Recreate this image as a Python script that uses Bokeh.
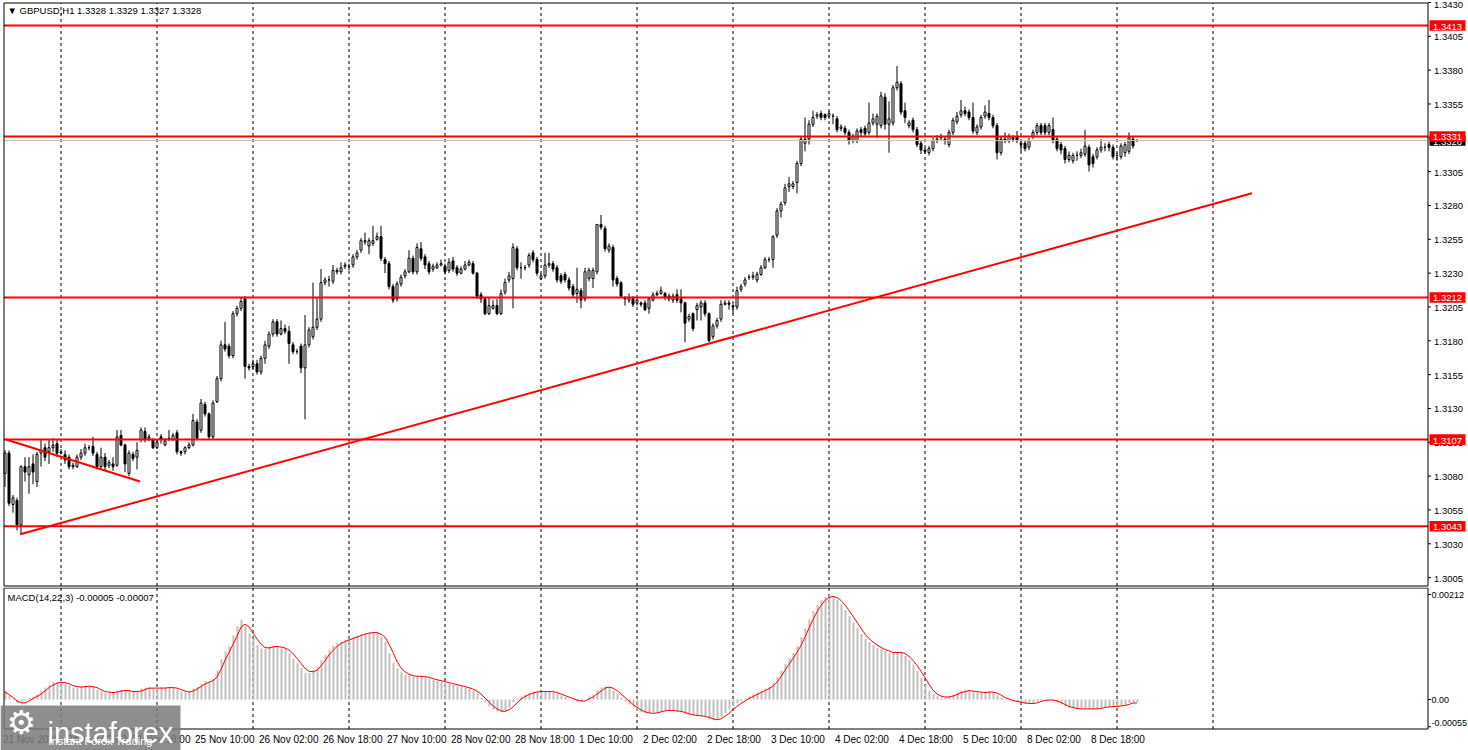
from bokeh.plotting import figure
from bokeh.layouts import column
from bokeh.models import Range1d, Label, ColumnDataSource
from bokeh.transform import dodge
from bokeh.core.properties import value
from bokeh.embed import file_html
from bokeh.resources import INLINE

# ---------------- data (GBPUSD H1, 21 Nov 10:00 .. 9 Dec 05:00) ----------------
open_ = [
    1.3082,1.3097,1.3059,1.3062,1.3044,1.3087,1.3081,1.3089,1.3076,1.3097,
    1.3101,1.3098,1.3101,1.3104,1.3097,1.3096,1.3094,1.3087,1.3087,1.3094,
    1.3097,1.3101,1.3102,1.3096,1.3087,1.3094,1.3088,1.3089,1.3088,1.3110,
    1.3103,1.3082,1.3096,1.3094,1.3107,1.3113,1.3108,1.3107,1.3101,1.3109,
    1.3103,1.3107,1.3107,1.3112,1.3098,1.3098,1.3101,1.3103,1.3120,1.3114,
    1.3133,1.3126,1.3109,1.3135,1.3152,1.3177,1.3176,1.3169,1.3200,1.3204,
    1.3211,1.3161,1.3161,1.3163,1.3157,1.3167,1.3176,1.3185,1.3194,1.3185,
    1.3189,1.3187,1.3177,1.3172,1.3176,1.3160,1.3177,1.3183,1.3190,1.3196,
    1.3223,1.3225,1.3224,1.3231,1.3231,1.3235,1.3235,1.3236,1.3242,1.3247,
    1.3253,1.3250,1.3252,1.3255,1.3257,1.3240,1.3237,1.3220,1.3211,1.3222,
    1.3228,1.3231,1.3241,1.3231,1.3248,1.3242,1.3237,1.3233,1.3234,1.3236,
    1.3235,1.3232,1.3239,1.3234,1.3230,1.3233,1.3236,1.3237,1.3230,1.3214,
    1.3211,1.3200,1.3204,1.3206,1.3200,1.3216,1.3225,1.3226,1.3248,1.3234,
    1.3234,1.3236,1.3245,1.3240,1.3226,1.3228,1.3236,1.3237,1.3234,1.3228,
    1.3229,1.3225,1.3220,1.3215,1.3217,1.3211,1.3226,1.3226,1.3231,1.3266,
    1.3263,1.3247,1.3249,1.3226,1.3223,1.3212,1.3210,1.3211,1.3208,1.3208,
    1.3208,1.3204,1.3210,1.3214,1.3215,1.3215,1.3213,1.3210,1.3214,1.3211,
    1.3208,1.3196,1.3200,1.3203,1.3205,1.3208,1.3200,1.3183,1.3191,1.3196,
    1.3207,1.3208,1.3206,1.3205,1.3218,1.3222,1.3227,1.3227,1.3225,1.3229,
    1.3234,1.3240,1.3240,1.3258,1.3276,1.3282,1.3294,1.3294,1.3297,1.3311,
    1.3326,1.3329,1.3340,1.3346,1.3348,1.3347,1.3346,1.3346,1.3344,1.3337,
    1.3337,1.3334,1.3328,1.3328,1.3336,1.3337,1.3334,1.3341,1.3340,1.3339,
    1.3360,1.3340,1.3341,1.3367,1.3370,1.3350,1.3339,1.3343,1.3336,1.3326,
    1.3321,1.3319,1.3322,1.3328,1.3330,1.3329,1.3325,1.3334,1.3342,1.3347,
    1.3350,1.3349,1.3345,1.3334,1.3338,1.3346,1.3348,1.3345,1.3339,1.3319,
    1.3329,1.3328,1.3330,1.3331,1.3326,1.3326,1.3323,1.3331,1.3334,1.3339,
    1.3339,1.3334,1.3336,1.3329,1.3325,1.3322,1.3314,1.3313,1.3317,1.3317,
    1.3318,1.3323,1.3316,1.3316,1.3321,1.3323,1.3325,1.3323,1.3317,1.3316,
    1.3319,1.3320,1.3329,1.3328,
]
high_ = [
    1.3099,1.3099,1.3066,1.3064,1.3088,1.3094,1.3094,1.3096,1.3098,1.3107,
    1.3104,1.3107,1.3108,1.3107,1.3100,1.3099,1.3096,1.3090,1.3096,1.3100,
    1.3104,1.3103,1.3109,1.3098,1.3101,1.3097,1.3092,1.3094,1.3114,1.3114,
    1.3104,1.3099,1.3098,1.3105,1.3116,1.3116,1.3111,1.3108,1.3107,1.3111,
    1.3108,1.3114,1.3112,1.3114,1.3099,1.3102,1.3105,1.3126,1.3122,1.3137,
    1.3135,1.3127,1.3136,1.3154,1.3180,1.3194,1.3178,1.3202,1.3206,1.3212,
    1.3213,1.3163,1.3166,1.3166,1.3169,1.3180,1.3187,1.3196,1.3196,1.3195,
    1.3192,1.3191,1.3179,1.3174,1.3178,1.3199,1.3190,1.3223,1.3212,1.3233,
    1.3227,1.3228,1.3236,1.3234,1.3238,1.3238,1.3237,1.3244,1.3247,1.3256,
    1.3260,1.3256,1.3265,1.3260,1.3265,1.3242,1.3239,1.3222,1.3224,1.3229,
    1.3233,1.3247,1.3243,1.3252,1.3253,1.3244,1.3239,1.3237,1.3238,1.3240,
    1.3237,1.3241,1.3242,1.3236,1.3235,1.3239,1.3240,1.3239,1.3231,1.3216,
    1.3212,1.3212,1.3210,1.3211,1.3218,1.3226,1.3231,1.3252,1.3250,1.3238,
    1.3236,1.3245,1.3247,1.3242,1.3230,1.3245,1.3245,1.3239,1.3236,1.3230,
    1.3231,1.3227,1.3222,1.3234,1.3219,1.3234,1.3234,1.3234,1.3266,1.3273,
    1.3265,1.3252,1.3251,1.3228,1.3224,1.3213,1.3215,1.3213,1.3212,1.3209,
    1.3210,1.3212,1.3216,1.3217,1.3220,1.3216,1.3215,1.3215,1.3218,1.3218,
    1.3209,1.3200,1.3201,1.3208,1.3210,1.3210,1.3201,1.3193,1.3197,1.3210,
    1.3210,1.3210,1.3207,1.3220,1.3222,1.3227,1.3229,1.3231,1.3231,1.3236,
    1.3242,1.3242,1.3258,1.3278,1.3283,1.3296,1.3301,1.3298,1.3313,1.3331,
    1.3345,1.3343,1.3350,1.3349,1.3350,1.3348,1.3350,1.3348,1.3346,1.3340,
    1.3339,1.3336,1.3333,1.3337,1.3338,1.3339,1.3356,1.3348,1.3348,1.3364,
    1.3363,1.3357,1.3369,1.3383,1.3372,1.3356,1.3343,1.3345,1.3338,1.3328,
    1.3323,1.3324,1.3330,1.3332,1.3333,1.3331,1.3336,1.3345,1.3349,1.3358,
    1.3353,1.3351,1.3356,1.3340,1.3347,1.3354,1.3358,1.3347,1.3341,1.3331,
    1.3334,1.3333,1.3332,1.3335,1.3328,1.3328,1.3330,1.3336,1.3341,1.3341,
    1.3341,1.3341,1.3345,1.3331,1.3327,1.3324,1.3320,1.3319,1.3320,1.3322,
    1.3336,1.3325,1.3318,1.3323,1.3329,1.3326,1.3327,1.3325,1.3319,1.3326,
    1.3327,1.3334,1.3331,1.3329,
]
low_ = [
    1.3072,1.3058,1.3053,1.3040,1.3037,1.3076,1.3067,1.3074,1.3072,1.3087,
    1.3091,1.3089,1.3098,1.3094,1.3096,1.3089,1.3085,1.3085,1.3086,1.3092,
    1.3095,1.3099,1.3095,1.3085,1.3086,1.3084,1.3086,1.3084,1.3087,1.3102,
    1.3083,1.3080,1.3091,1.3085,1.3105,1.3105,1.3106,1.3100,1.3100,1.3104,
    1.3102,1.3106,1.3106,1.3096,1.3095,1.3096,1.3100,1.3102,1.3107,1.3112,
    1.3124,1.3107,1.3107,1.3134,1.3150,1.3172,1.3167,1.3167,1.3198,1.3202,
    1.3152,1.3158,1.3159,1.3155,1.3155,1.3163,1.3174,1.3183,1.3183,1.3184,
    1.3185,1.3163,1.3170,1.3170,1.3156,1.3122,1.3175,1.3181,1.3188,1.3194,
    1.3221,1.3220,1.3222,1.3229,1.3229,1.3233,1.3232,1.3234,1.3240,1.3245,
    1.3251,1.3244,1.3250,1.3254,1.3239,1.3230,1.3218,1.3208,1.3209,1.3220,
    1.3226,1.3230,1.3229,1.3229,1.3239,1.3233,1.3229,1.3231,1.3233,1.3235,
    1.3229,1.3230,1.3231,1.3228,1.3229,1.3232,1.3235,1.3229,1.3211,1.3208,
    1.3199,1.3199,1.3203,1.3199,1.3199,1.3214,1.3223,1.3204,1.3232,1.3226,
    1.3232,1.3234,1.3238,1.3228,1.3225,1.3226,1.3234,1.3231,1.3223,1.3222,
    1.3223,1.3217,1.3212,1.3208,1.3204,1.3209,1.3224,1.3219,1.3229,1.3262,
    1.3246,1.3245,1.3220,1.3220,1.3212,1.3206,1.3208,1.3205,1.3206,1.3205,
    1.3202,1.3200,1.3209,1.3213,1.3214,1.3210,1.3209,1.3208,1.3208,1.3201,
    1.3179,1.3194,1.3187,1.3195,1.3195,1.3198,1.3179,1.3181,1.3189,1.3194,
    1.3206,1.3203,1.3200,1.3203,1.3216,1.3220,1.3225,1.3225,1.3223,1.3228,
    1.3233,1.3238,1.3234,1.3256,1.3271,1.3280,1.3290,1.3292,1.3289,1.3309,
    1.3320,1.3325,1.3338,1.3344,1.3343,1.3343,1.3344,1.3340,1.3334,1.3335,
    1.3332,1.3325,1.3326,1.3326,1.3331,1.3331,1.3332,1.3339,1.3330,1.3337,
    1.3336,1.3319,1.3339,1.3365,1.3347,1.3341,1.3337,1.3334,1.3323,1.3318,
    1.3318,1.3317,1.3320,1.3326,1.3328,1.3325,1.3323,1.3332,1.3340,1.3345,
    1.3346,1.3343,1.3333,1.3332,1.3336,1.3344,1.3343,1.3337,1.3314,1.3317,
    1.3326,1.3326,1.3327,1.3326,1.3320,1.3320,1.3321,1.3329,1.3332,1.3332,
    1.3332,1.3332,1.3326,1.3320,1.3318,1.3311,1.3312,1.3311,1.3313,1.3315,
    1.3316,1.3305,1.3308,1.3314,1.3319,1.3320,1.3320,1.3314,1.3313,1.3314,
    1.3316,1.3318,1.3322,1.3327,
]
close_ = [
    1.3097,1.3060,1.3064,1.3044,1.3087,1.3083,1.3087,1.3083,1.3096,1.3099,
    1.3094,1.3101,1.3103,1.3097,1.3098,1.3092,1.3087,1.3088,1.3094,1.3097,
    1.3101,1.3101,1.3097,1.3087,1.3094,1.3087,1.3090,1.3087,1.3109,1.3103,
    1.3089,1.3097,1.3093,1.3099,1.3114,1.3107,1.3109,1.3101,1.3105,1.3107,
    1.3106,1.3108,1.3110,1.3098,1.3097,1.3101,1.3103,1.3121,1.3108,1.3134,
    1.3126,1.3109,1.3134,1.3152,1.3177,1.3174,1.3169,1.3200,1.3204,1.3209,
    1.3161,1.3160,1.3163,1.3157,1.3167,1.3177,1.3185,1.3194,1.3185,1.3189,
    1.3187,1.3178,1.3172,1.3172,1.3160,1.3177,1.3188,1.3190,1.3196,1.3223,
    1.3225,1.3225,1.3232,1.3232,1.3234,1.3236,1.3235,1.3242,1.3245,1.3254,
    1.3254,1.3254,1.3254,1.3257,1.3241,1.3237,1.3220,1.3210,1.3222,1.3227,
    1.3231,1.3241,1.3231,1.3249,1.3241,1.3236,1.3231,1.3235,1.3236,1.3237,
    1.3231,1.3238,1.3233,1.3230,1.3233,1.3236,1.3238,1.3230,1.3213,1.3211,
    1.3200,1.3206,1.3206,1.3200,1.3215,1.3223,1.3228,1.3249,1.3234,1.3234,
    1.3234,1.3243,1.3240,1.3230,1.3228,1.3236,1.3237,1.3233,1.3225,1.3224,
    1.3225,1.3219,1.3214,1.3218,1.3210,1.3231,1.3232,1.3232,1.3266,1.3264,
    1.3248,1.3250,1.3225,1.3222,1.3213,1.3211,1.3212,1.3207,1.3210,1.3207,
    1.3203,1.3211,1.3214,1.3215,1.3217,1.3212,1.3211,1.3213,1.3210,1.3208,
    1.3193,1.3198,1.3189,1.3206,1.3208,1.3200,1.3180,1.3191,1.3195,1.3207,
    1.3208,1.3207,1.3205,1.3217,1.3220,1.3225,1.3227,1.3228,1.3229,1.3234,
    1.3240,1.3240,1.3257,1.3276,1.3281,1.3293,1.3296,1.3296,1.3311,1.3329,
    1.3329,1.3340,1.3345,1.3347,1.3345,1.3345,1.3348,1.3346,1.3336,1.3338,
    1.3334,1.3328,1.3331,1.3335,1.3334,1.3333,1.3341,1.3344,1.3346,1.3361,
    1.3340,1.3344,1.3367,1.3371,1.3349,1.3345,1.3341,1.3336,1.3325,1.3321,
    1.3320,1.3322,1.3328,1.3329,1.3331,1.3328,1.3334,1.3343,1.3346,1.3350,
    1.3348,1.3345,1.3335,1.3338,1.3345,1.3349,1.3345,1.3339,1.3319,1.3329,
    1.3328,1.3331,1.3329,1.3328,1.3325,1.3322,1.3328,1.3334,1.3339,1.3334,
    1.3334,1.3339,1.3328,1.3322,1.3321,1.3314,1.3317,1.3317,1.3317,1.3319,
    1.3324,1.3310,1.3311,1.3321,1.3323,1.3323,1.3323,1.3316,1.3317,1.3324,
    1.3325,1.3330,1.3324,1.3328,
]
macd_main = [
    0.00018,0.00008,-0.00002,-0.00007,-0.00007,-0.00003,0.00003,0.00006,0.00010,0.00018,
    0.00024,0.00029,0.00035,0.00035,0.00034,0.00032,0.00029,0.00024,0.00024,0.00027,
    0.00027,0.00027,0.00025,0.00020,0.00016,0.00013,0.00015,0.00013,0.00018,0.00020,
    0.00017,0.00017,0.00015,0.00015,0.00022,0.00024,0.00024,0.00022,0.00022,0.00024,
    0.00024,0.00024,0.00024,0.00020,0.00016,0.00014,0.00015,0.00022,0.00025,0.00032,
    0.00037,0.00035,0.00042,0.00059,0.00081,0.00097,0.00108,0.00129,0.00148,0.00161,
    0.00148,0.00133,0.00122,0.00110,0.00103,0.00103,0.00107,0.00108,0.00107,0.00103,
    0.00103,0.00093,0.00083,0.00073,0.00063,0.00054,0.00054,0.00059,0.00065,0.00080,
    0.00090,0.00100,0.00108,0.00114,0.00117,0.00120,0.00123,0.00126,0.00129,0.00133,
    0.00134,0.00135,0.00135,0.00135,0.00127,0.00117,0.00093,0.00074,0.00063,0.00055,
    0.00050,0.00048,0.00046,0.00047,0.00047,0.00045,0.00042,0.00040,0.00038,0.00036,
    0.00034,0.00032,0.00030,0.00028,0.00026,0.00024,0.00022,0.00018,0.00012,0.00004,
    -0.00006,-0.00014,-0.00020,-0.00024,-0.00026,-0.00022,-0.00016,-0.00006,0.00002,0.00006,
    0.00010,0.00014,0.00016,0.00016,0.00016,0.00017,0.00016,0.00014,0.00012,0.00008,
    0.00005,0.00002,-0.00002,-0.00004,-0.00004,0.00000,0.00006,0.00010,0.00018,0.00024,
    0.00026,0.00024,0.00018,0.00012,0.00004,-0.00004,-0.00010,-0.00015,-0.00022,-0.00025,
    -0.00027,-0.00028,-0.00027,-0.00025,-0.00023,-0.00022,-0.00022,-0.00023,-0.00024,-0.00026,
    -0.00029,-0.00031,-0.00032,-0.00033,-0.00033,-0.00035,-0.00040,-0.00042,-0.00040,-0.00035,
    -0.00028,-0.00020,-0.00013,-0.00008,-0.00003,0.00002,0.00006,0.00010,0.00014,0.00018,
    0.00022,0.00026,0.00034,0.00046,0.00058,0.00072,0.00084,0.00094,0.00108,0.00126,
    0.00144,0.00162,0.00178,0.00191,0.00201,0.00207,0.00210,0.00208,0.00201,0.00192,
    0.00181,0.00168,0.00155,0.00144,0.00132,0.00122,0.00116,0.00110,0.00104,0.00102,
    0.00098,0.00094,0.00094,0.00096,0.00094,0.00088,0.00080,0.00070,0.00058,0.00044,
    0.00030,0.00018,0.00010,0.00006,0.00004,0.00004,0.00006,0.00010,0.00014,0.00017,
    0.00018,0.00018,0.00016,0.00014,0.00014,0.00015,0.00016,0.00014,0.00008,0.00004,
    0.00001,-0.00002,-0.00004,-0.00005,-0.00007,-0.00009,-0.00009,-0.00007,-0.00004,-0.00002,
    -0.00001,0.00000,-0.00002,-0.00006,-0.00010,-0.00014,-0.00017,-0.00018,-0.00019,-0.00019,
    -0.00018,-0.00019,-0.00019,-0.00018,-0.00016,-0.00015,-0.00014,-0.00014,-0.00014,-0.00012,
    -0.00010,-0.00007,-0.00005,-0.00005,
]
macd_signal = [
    0.00015,0.00010,0.00004,-0.00003,-0.00007,-0.00007,-0.00003,0.00002,0.00006,0.00011,
    0.00017,0.00024,0.00029,0.00033,0.00035,0.00034,0.00032,0.00028,0.00026,0.00025,
    0.00026,0.00027,0.00026,0.00024,0.00020,0.00016,0.00015,0.00014,0.00015,0.00017,
    0.00018,0.00018,0.00016,0.00016,0.00017,0.00020,0.00023,0.00023,0.00023,0.00023,
    0.00023,0.00024,0.00024,0.00023,0.00020,0.00017,0.00015,0.00017,0.00021,0.00026,
    0.00031,0.00035,0.00038,0.00045,0.00061,0.00079,0.00095,0.00111,0.00128,0.00146,
    0.00152,0.00147,0.00134,0.00122,0.00112,0.00105,0.00104,0.00106,0.00107,0.00106,
    0.00104,0.00100,0.00093,0.00083,0.00073,0.00063,0.00057,0.00056,0.00059,0.00068,
    0.00078,0.00090,0.00099,0.00107,0.00113,0.00117,0.00120,0.00123,0.00126,0.00129,
    0.00132,0.00134,0.00135,0.00135,0.00132,0.00126,0.00112,0.00095,0.00077,0.00064,
    0.00056,0.00051,0.00048,0.00047,0.00047,0.00046,0.00045,0.00042,0.00040,0.00038,
    0.00036,0.00034,0.00032,0.00030,0.00028,0.00026,0.00024,0.00021,0.00017,0.00011,
    0.00003,-0.00005,-0.00013,-0.00019,-0.00023,-0.00024,-0.00021,-0.00015,-0.00007,0.00001,
    0.00006,0.00010,0.00013,0.00015,0.00016,0.00016,0.00016,0.00016,0.00014,0.00011,
    0.00008,0.00005,0.00002,-0.00001,-0.00003,-0.00003,0.00001,0.00005,0.00011,0.00017,
    0.00023,0.00025,0.00023,0.00018,0.00011,0.00004,-0.00003,-0.00010,-0.00016,-0.00021,
    -0.00025,-0.00027,-0.00028,-0.00027,-0.00025,-0.00023,-0.00022,-0.00022,-0.00023,-0.00024,
    -0.00026,-0.00029,-0.00031,-0.00032,-0.00033,-0.00034,-0.00036,-0.00039,-0.00041,-0.00039,
    -0.00034,-0.00028,-0.00020,-0.00014,-0.00008,-0.00003,0.00002,0.00006,0.00010,0.00014,
    0.00018,0.00022,0.00027,0.00035,0.00046,0.00059,0.00071,0.00083,0.00095,0.00109,
    0.00126,0.00144,0.00161,0.00177,0.00190,0.00200,0.00206,0.00208,0.00206,0.00200,
    0.00191,0.00180,0.00168,0.00156,0.00144,0.00132,0.00123,0.00116,0.00110,0.00105,
    0.00101,0.00098,0.00095,0.00095,0.00095,0.00093,0.00087,0.00079,0.00069,0.00057,
    0.00044,0.00031,0.00019,0.00011,0.00007,0.00005,0.00005,0.00007,0.00010,0.00014,
    0.00016,0.00018,0.00017,0.00016,0.00015,0.00014,0.00015,0.00015,0.00013,0.00009,
    0.00004,0.00001,-0.00002,-0.00004,-0.00005,-0.00007,-0.00008,-0.00008,-0.00007,-0.00004,
    -0.00002,-0.00001,-0.00001,-0.00003,-0.00006,-0.00010,-0.00014,-0.00016,-0.00018,-0.00019,
    -0.00019,-0.00019,-0.00019,-0.00019,-0.00018,-0.00016,-0.00015,-0.00014,-0.00014,-0.00013,
    -0.00012,-0.00010,-0.00007,-0.00007,
]

time_tick_bars = [0, 16, 32, 48, 64, 80, 96, 112, 128, 144, 160, 176, 192, 208, 224, 240, 256, 272]
time_tick_labels = ["21 Nov 2025", "24 Nov 02:00", "24 Nov 18:00", "25 Nov 10:00", "26 Nov 02:00",
                    "26 Nov 18:00", "27 Nov 10:00", "28 Nov 02:00", "28 Nov 18:00", "1 Dec 10:00",
                    "2 Dec 02:00", "2 Dec 18:00", "3 Dec 10:00", "4 Dec 02:00", "4 Dec 18:00",
                    "5 Dec 10:00", "8 Dec 02:00", "8 Dec 18:00"]
day_start_bars = [14, 38, 62, 86, 110, 134, 158, 182, 206, 230, 254, 278, 302]
price_ticks = [1.3005, 1.3030, 1.3055, 1.3080, 1.3105, 1.3130, 1.3155, 1.3180, 1.3205,
               1.3230, 1.3255, 1.3280, 1.3305, 1.3330, 1.3355, 1.3380, 1.3405, 1.3430]
macd_ticks = [0.00212, 0.0, -0.00055]
macd_tick_labels = ["0.00212", "0.00", "-0.00055"]
level_prices = [1.3413, 1.3331, 1.3212, 1.3107, 1.3043]
current_price = 1.3328
trend_up_bar = [3.8, 311.75]
trend_up_price = [1.3037, 1.3289]
trend_down_bar = [0.25, 33.75]
trend_down_price = [1.3107, 1.3076]
header_text = "\u25BC GBPUSD,H1  1.3328 1.3329 1.3327 1.3328"
macd_text = "MACD(14,22,3) -0.00005 -0.00007"

# ---------------- layout constants (MT4 style, pixel aligned; page has no margin) ----------------
FONT = "Liberation Sans"
PPB = 4.0                      # pixels per hourly bar
W = 1468
H1, H2 = 587, 163
X0 = -1.125                    # bar i centred on pixel column 4 + 4i
X1 = X0 + W / PPB
XL = X0 + 3.5 / PPB            # left border of the windows
XR = X0 + 1427.5 / PPB         # right border of the windows (price scale to its right)

S1 = 1 / 13532.0               # price per pixel in the main window
P1_TOP = 1.3413 + 22.5 * S1    # border rows of the main window
P1_BOT = 1.3413 - 560.5 * S1
Y1_START, Y1_END = P1_BOT - 1.5 * S1, P1_TOP + 2.5 * S1

S2 = 0.00212 / 105.0           # MACD units per pixel
P2_TOP = 111.5 * S2
P2_BOT = -29.5 * S2
Y2_START, Y2_END = P2_BOT - 21.5 * S2, P2_TOP + 0.5 * S2

bars = list(range(len(close_)))
xr = Range1d(X0, X1)


def make_fig(h, y0, y1):
    f = figure(width=W, height=h, x_range=xr, y_range=Range1d(y0, y1),
               x_axis_location=None, y_axis_location=None,
               output_backend="svg", toolbar_location=None, tools="",
               min_border=0, min_border_left=0, min_border_right=0,
               min_border_top=0, min_border_bottom=0,
               outline_line_color=None, background_fill_color="white",
               border_fill_color="white")
    for g in f.grid:
        g.visible = False
    return f


# ================= main price window =================
p1 = make_fig(H1, Y1_START, Y1_END)
nd = len(day_start_bars)
p1.segment(x0=day_start_bars, x1=day_start_bars, y0=[P1_BOT] * nd, y1=[P1_TOP] * nd,
           line_color="black", line_width=1, line_dash="3 3")

up = [i for i in bars if close_[i] >= open_[i]]
dn = [i for i in bars if close_[i] < open_[i]]
src_up = ColumnDataSource(dict(x=up, top=[close_[i] for i in up], bottom=[open_[i] for i in up]))
src_dn = ColumnDataSource(dict(x=dn, top=[open_[i] for i in dn], bottom=[close_[i] for i in dn]))
p1.segment(x0=bars, y0=low_, x1=bars, y1=high_, line_color="black", line_width=1)
p1.vbar(x="x", top="top", bottom="bottom", width=0.5, source=src_up,
        fill_color="white", line_color="black", line_width=1)
p1.vbar(x="x", top="top", bottom="bottom", width=0.5, source=src_dn,
        fill_color="black", line_color="black", line_width=1)

p1.segment(x0=[XL], x1=[XR], y0=[current_price], y1=[current_price], line_color="#c0c0c0", line_width=1)
nl = len(level_prices)
p1.segment(x0=[XL] * nl, x1=[XR] * nl, y0=level_prices, y1=level_prices,
           line_color="#ff0000", line_width=2)
p1.line(trend_up_bar, trend_up_price, line_color="#ff0000", line_width=2)
p1.line(trend_down_bar, trend_down_price, line_color="#ff0000", line_width=2)

# window border
p1.quad(left=[XL], right=[XR], top=[P1_TOP], bottom=[P1_BOT], fill_color=None,
        line_color="black", line_width=1)

# price scale
npt = len(price_ticks)
p1.segment(x0=[XR] * npt, x1=[XR + 3 / PPB] * npt, y0=price_ticks, y1=price_ticks,
           line_color="black", line_width=1)
p1.text(x=[XR] * npt, y=price_ticks, text=[f"{t:.4f}" for t in price_ticks],
        x_offset=6, y_offset=[1] * (npt - 1) + [3], text_font=value(FONT),
        text_font_size=value("9.5px"), text_color="black",
        text_baseline="middle", text_align="left")

# price tags (current price first, then the horizontal levels on top)
TAG_H = 5.3 * S1
p1.quad(left=[XR + 1.5 / PPB], right=[XR + 37.5 / PPB], top=[current_price + TAG_H],
        bottom=[current_price - TAG_H], fill_color="black", line_color=None)
p1.text(x=[XR], y=[current_price], text=[f"{current_price:.4f}"], x_offset=5, y_offset=1,
        text_font=value(FONT), text_font_size=value("9.5px"), text_color="white",
        text_baseline="middle", text_align="left")
p1.quad(left=[XR + 1.5 / PPB] * nl, right=[XR + 37.5 / PPB] * nl,
        top=[lv + TAG_H for lv in level_prices], bottom=[lv - TAG_H for lv in level_prices],
        fill_color="#ff0000", line_color=None)
p1.text(x=[XR] * nl, y=level_prices, text=[f"{lv:.4f}" for lv in level_prices], x_offset=5,
        y_offset=1, text_font=value(FONT), text_font_size=value("9.5px"), text_color="white",
        text_baseline="middle", text_align="left")

p1.add_layout(Label(x=X0 + 7 / PPB, y=P1_TOP - 7.5 * S1, text=header_text,
                    text_color="black", text_font=FONT, text_font_size="9.5px",
                    text_baseline="middle", text_align="left"))

# ================= MACD window =================
p2 = make_fig(H2, Y2_START, Y2_END)
p2.segment(x0=day_start_bars, x1=day_start_bars, y0=[P2_BOT] * nd, y1=[P2_TOP] * nd,
           line_color="black", line_width=1, line_dash="3 3")

src_m = ColumnDataSource(dict(x=bars, m=macd_main, s=macd_signal))
p2.vbar(x=dodge("x", 0.125), top="m", bottom=0, width=0.5, source=src_m,
        fill_color="#c0c0c0", line_color=None)
p2.line(x="x", y="s", source=src_m, line_color="#ff0000", line_width=1)

p2.quad(left=[XL], right=[XR], top=[P2_TOP], bottom=[P2_BOT], fill_color=None,
        line_color="black", line_width=1)

nm = len(macd_ticks)
p2.segment(x0=[XR] * nm, x1=[XR + 3 / PPB] * nm, y0=macd_ticks, y1=macd_ticks,
           line_color="black", line_width=1)
p2.text(x=[XR] * nm, y=macd_ticks, text=macd_tick_labels, x_offset=3.5, y_offset=[0, 0, -3.5],
        text_font=value(FONT), text_font_size=value("9px"), text_color="black",
        text_baseline="middle", text_align="left")

# time scale
nt = len(time_tick_bars)
p2.text(x=time_tick_bars, y=[P2_BOT - 10.5 * S2] * nt, text=time_tick_labels, x_offset=-2,
        text_font=value(FONT), text_font_size=value("10px"), text_color="black",
        text_baseline="middle", text_align="left")

p2.add_layout(Label(x=X0 + 7 / PPB, y=P2_TOP - 9.5 * S2, text=macd_text,
                    text_color="black", text_font=FONT, text_font_size="9.5px",
                    text_baseline="middle", text_align="left"))

# watermark (InstaForex logo block, lower left)
p2.quad(left=[X0], right=[X0 + 180 / PPB], top=[P2_TOP - 117.5 * S2], bottom=[Y2_START],
        fill_color="#7a7a7a", fill_alpha=0.85, line_color=None)
p2.text(x=[X0], y=[P2_TOP - 134.5 * S2], text=["\u2699"], x_offset=6,
        text_font=value("DejaVu Sans"), text_font_size=value("33px"), text_color="white",
        text_baseline="middle", text_align="left")
p2.text(x=[X0], y=[P2_TOP - 144.5 * S2], text=["instaforex"], x_offset=47,
        text_font=value(FONT), text_font_size=value("29px"), text_color="white",
        text_baseline="alphabetic", text_align="left")
p2.text(x=[X0], y=[P2_TOP - 152.5 * S2], text=["Instant Forex Trading"], x_offset=48,
        text_font=value(FONT), text_font_size=value("11px"), text_color="white",
        text_baseline="middle", text_align="left")

layout = column(p1, p2, spacing=0)
open("out.html", "w").write(file_html(layout, INLINE))
